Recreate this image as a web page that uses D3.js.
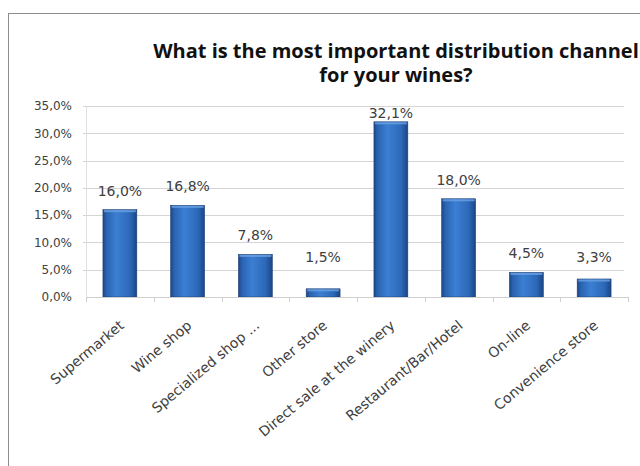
<!DOCTYPE html>
<html lang="en">
	<head>
		<meta charset="utf-8">
		<title>Distribution channel</title>
		<script type="text/javascript" src="https://cdn.jsdelivr.net/npm/d3@7"></script>
		<style type="text/css">
			body { margin: 0; background: #fff; }
			svg { display: block; }
		</style>
	</head>
	<body>
		<script type="text/javascript">

			//Data
			let channels = ["Supermarket", "Wine shop", "Specialized shop ...", "Other store",
							"Direct sale at the winery", "Restaurant/Bar/Hotel", "On-line", "Convenience store"];
			let shares = [16.0, 16.8, 7.8, 1.5, 32.1, 18.0, 4.5, 3.3];
			let yTicks = [0, 5, 10, 15, 20, 25, 30, 35];
			let titleLines = ["What is the most important distribution channel", "for your wines?"];

			//Width and height
			let w = 640;
			let h = 466;

			let fmt = (v)=> { return v.toFixed(1).replace(".", ",") + "%"; };

			let svg = d3.select("body")
						.append("svg")
						.attr("width", w)
						.attr("height", h);

			//Bar gradient
			let defs = svg.append("defs");
			let grad = defs.append("linearGradient")
						   .attr("id", "barGrad")
						   .attr("x1", "0%").attr("x2", "100%")
						   .attr("y1", "0%").attr("y2", "0%");
			[["0%", "#1a4685"], ["10%", "#2a62b0"], ["40%", "#3b7fd3"], ["80%", "#2d68b8"], ["100%", "#1a4685"]]
				.forEach((s)=> { grad.append("stop").attr("offset", s[0]).attr("stop-color", s[1]); });

			//Chart area border
			svg.append("rect")
			   .attr("x", 8.5).attr("y", 13.5)
			   .attr("width", 700).attr("height", 600)
			   .style("fill", "#fff")
			   .style("stroke", "#8c8c8c")
			   .style("stroke-width", 1);

			//Title
			svg.append("text")
			   .attr("x", 396)
			   .attr("y", 58)
			   .style("font-family", "'Open Sans', sans-serif")
			   .style("font-weight", "bold")
			   .style("font-size", "20px")
			   .style("fill", "#111")
			   .attr("text-anchor", "middle")
			   .selectAll("tspan")
			   .data(titleLines)
			   .enter()
			   .append("tspan")
			   .attr("x", 396)
			   .attr("dy", (d, i)=> { return i ? 24 : 0; })
			   .text((d)=> { return d; });

			//Scales
			let x = d3.scaleBand()
					  .domain(channels)
					  .range([86, 628])
					  .paddingInner(0.5)
					  .paddingOuter(0.25);

			let y = d3.scaleLinear()
					  .domain([0, 35])
					  .range([297, 106]);

			//Gridlines
			svg.append("g")
			   .selectAll("line")
			   .data(yTicks.slice(1))
			   .enter()
			   .append("line")
			   .attr("x1", 83).attr("x2", 624)
			   .attr("y1", (d)=> { return Math.round(y(d)) + 0.5; })
			   .attr("y2", (d)=> { return Math.round(y(d)) + 0.5; })
			   .style("stroke", "#d4d4d4")
			   .style("stroke-width", 1);

			//Y axis labels
			let yAxis = d3.axisLeft(y)
						  .tickValues(yTicks)
						  .tickSize(0)
						  .tickPadding(14)
						  .tickFormat(fmt);

			let yg = svg.append("g")
						.attr("transform", "translate(86,0)")
						.call(yAxis);
			yg.select(".domain").style("stroke", "#e0e0e0");
			yg.selectAll("text")
			  .style("font-family", "'DejaVu Sans', sans-serif")
			  .style("font-size", "12px")
			  .style("fill", "#404040");

			//Bars
			svg.selectAll("rect.bar")
			   .data(shares)
			   .enter()
			   .append("rect")
			   .attr("class", "bar")
			   .attr("x", (d, i)=> { return x(channels[i]); })
			   .attr("y", (d)=> { return y(d); })
			   .attr("width", x.bandwidth())
			   .attr("height", (d)=> { return y(0) - y(d); })
			   .style("fill", "url(#barGrad)")
			   .style("stroke", "#1b3f73")
			   .style("stroke-width", 0.6);

			//Light cap on top of each bar
			svg.selectAll("rect.cap")
			   .data(shares)
			   .enter()
			   .append("rect")
			   .attr("class", "cap")
			   .attr("x", (d, i)=> { return x(channels[i]) + 1; })
			   .attr("y", (d)=> { return y(d) + 0.5; })
			   .attr("width", x.bandwidth() - 2)
			   .attr("height", 2)
			   .style("fill", "#6da2e3")
			   .style("opacity", 0.8);

			//X axis line and ticks
			let xAxis = d3.axisBottom(x)
						  .tickSize(0)
						  .tickFormat("");
			let xg = svg.append("g")
						.attr("transform", "translate(0,297)")
						.call(xAxis);
			xg.select(".domain").style("stroke", "#cfcfcf");

			let step = x.step();
			svg.append("g")
			   .selectAll("line")
			   .data(d3.range(channels.length + 1))
			   .enter()
			   .append("line")
			   .attr("x1", (d)=> { return Math.round(86 + d * step) + 0.5; })
			   .attr("x2", (d)=> { return Math.round(86 + d * step) + 0.5; })
			   .attr("y1", 297).attr("y2", 302)
			   .style("stroke", "#cfcfcf");

			//Value labels
			svg.selectAll("text.value")
			   .data(shares)
			   .enter()
			   .append("text")
			   .attr("class", "value")
			   .attr("x", (d, i)=> { return x(channels[i]) + x.bandwidth() / 2; })
			   .attr("y", (d)=> { return Math.max(118, Math.min(262, y(d) - 14)); })
			   .attr("text-anchor", "middle")
			   .style("font-family", "'DejaVu Sans', sans-serif")
			   .style("font-size", "14px")
			   .style("fill", "#404040")
			   .text((d)=> { return fmt(d); });

			//Category labels
			svg.selectAll("text.cat")
			   .data(channels)
			   .enter()
			   .append("text")
			   .attr("class", "cat")
			   .attr("transform", (d)=> {
			   		return "translate(" + (x(d) + x.bandwidth() / 2 + 5) + ",327) rotate(-40)";
			   })
			   .attr("text-anchor", "end")
			   .style("font-family", "'DejaVu Sans', sans-serif")
			   .style("font-size", "14px")
			   .style("fill", "#404040")
			   .text((d)=> { return d; });

		</script>
	</body>
</html>
